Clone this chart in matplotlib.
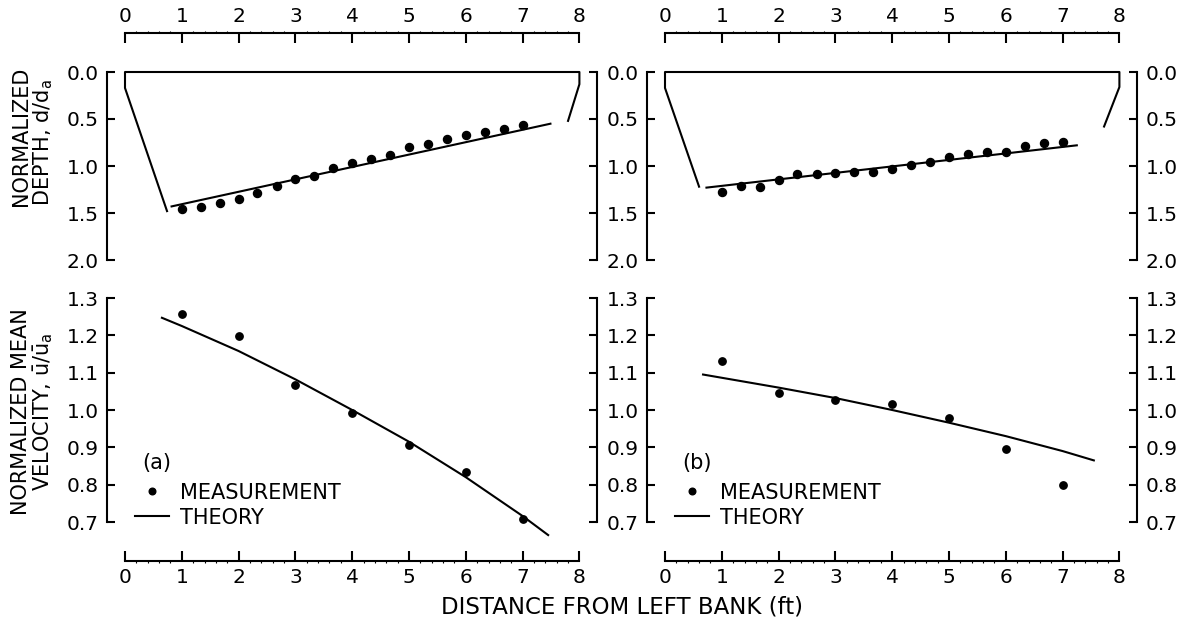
import numpy as np
import matplotlib.pyplot as plt
from matplotlib.ticker import FixedLocator, FormatStrFormatter

# --- channel cross sections (distance in ft, normalized depth d/d_a) ---
depth_x = [1.0, 1.33, 1.67, 2.0, 2.33, 2.67, 3.0, 3.33, 3.67, 4.0,
           4.33, 4.67, 5.0, 5.33, 5.67, 6.0, 6.33, 6.67, 7.0]
depth_meas_a = [1.46, 1.44, 1.39, 1.35, 1.29, 1.21, 1.14, 1.11, 1.02, 0.97,
                0.93, 0.88, 0.80, 0.77, 0.71, 0.67, 0.64, 0.61, 0.56]
depth_meas_b = [1.28, 1.21, 1.22, 1.15, 1.08, 1.08, 1.07, 1.06, 1.06, 1.03,
                0.99, 0.96, 0.90, 0.87, 0.85, 0.85, 0.79, 0.75, 0.74]

# banks + water surface outline
outline_x_a = [0.74, 0.0, 0.0, 8.0, 8.0, 7.80]
outline_d_a = [1.48, 0.17, 0.0, 0.0, 0.13, 0.52]
outline_x_b = [0.60, 0.0, 0.0, 8.0, 8.0, 7.73]
outline_d_b = [1.22, 0.17, 0.0, 0.0, 0.16, 0.58]

# theoretical bed
bed_x_a = [0.82, 7.49]
bed_d_a = [1.43, 0.55]
bed_x_b = [0.73, 7.25]
bed_d_b = [1.23, 0.78]

# --- depth-averaged velocity ---
vel_x = [1, 2, 3, 4, 5, 6, 7]
vel_meas_a = [1.258, 1.197, 1.066, 0.993, 0.905, 0.833, 0.709]
vel_meas_b = [1.130, 1.045, 1.028, 1.017, 0.979, 0.895, 0.800]

vel_theory_x_a = [0.65, 1.0, 2.0, 3.0, 4.0, 5.0, 6.0, 7.0, 7.45]
vel_theory_a = [1.247, 1.225, 1.158, 1.082, 1.000, 0.915, 0.820, 0.716, 0.665]
vel_theory_x_b = [0.67, 2.0, 3.0, 4.0, 5.0, 6.0, 7.0, 7.55]
vel_theory_b = [1.095, 1.060, 1.032, 1.000, 0.966, 0.930, 0.890, 0.865]

dist_ticks = [0, 1, 2, 3, 4, 5, 6, 7, 8]
depth_ticks = [0.0, 0.5, 1.0, 1.5, 2.0]
vel_ticks = [0.7, 0.8, 0.9, 1.0, 1.1, 1.2, 1.3]
panel_tags = ['(a)', '(b)']

plt.rcParams['font.family'] = 'DejaVu Sans'

W, H = 1191, 624
fig = plt.figure(figsize=(W / 100, H / 100), dpi=100)

PAD = 0.31          # gap between x=0 / x=8 and the side spines, in ft
UNIT = 56.8         # pixels per ft
x_origin = [125, 665]
LW = 1.5


def add_px_axes(x0, x1, y0, y1):
    return fig.add_axes([x0 / W, 1 - y1 / H, (x1 - x0) / W, (y1 - y0) / H])


panels = [
    (depth_meas_a, outline_x_a, outline_d_a, bed_x_a, bed_d_a,
     vel_meas_a, vel_theory_x_a, vel_theory_a),
    (depth_meas_b, outline_x_b, outline_d_b, bed_x_b, bed_d_b,
     vel_meas_b, vel_theory_x_b, vel_theory_b),
]

minor_x = [t + f for t in dist_ticks[:-1] for f in (0.2, 0.4, 0.6, 0.8)]

for i, (dm, ox, od, bx, bd, vm, tx, tv) in enumerate(panels):
    x0 = x_origin[i] - PAD * UNIT
    x1 = x_origin[i] + (8 + PAD) * UNIT
    axd = add_px_axes(x0, x1, 72, 260)
    axv = add_px_axes(x0, x1, 298, 522)

    # depth profile
    axd.plot(ox, od, color='black', lw=LW, clip_on=False)
    axd.plot(bx, bd, color='black', lw=LW, clip_on=False)
    axd.plot(depth_x, dm, 'o', color='black', ms=5.8, clip_on=False)

    # velocity profile
    theory, = axv.plot(tx, tv, color='black', lw=LW, clip_on=False)
    meas, = axv.plot(vel_x, vm, 'o', color='black', ms=5.3, clip_on=False)

    for ax in (axd, axv):
        ax.set_xlim(-PAD, 8 + PAD)
        ax.set_xticks(dist_ticks)
        ax.xaxis.set_minor_locator(FixedLocator(minor_x))
        ax.yaxis.set_ticks_position('both')
        ax.yaxis.set_major_formatter(FormatStrFormatter('%.1f'))
        for s in ax.spines.values():
            s.set_linewidth(LW)
        ax.tick_params(axis='y', which='major', direction='in', length=6,
                       width=LW, labelsize=14.5, pad=6,
                       labelleft=True, labelright=(i == 1))
        ax.tick_params(axis='x', which='major', direction='in', length=7,
                       width=LW, labelsize=14.5, pad=5)
        ax.tick_params(axis='x', which='minor', direction='out', length=1.5,
                       width=0.8)

    axd.set_ylim(2, 0)
    axd.set_yticks(depth_ticks)
    axd.spines['bottom'].set_visible(False)
    axd.spines['top'].set_position(('outward', 28))
    axd.spines['top'].set_bounds(0, 8)
    axd.xaxis.set_ticks_position('top')

    axv.set_ylim(0.7, 1.3)
    axv.set_yticks(vel_ticks)
    axv.spines['top'].set_visible(False)
    axv.spines['bottom'].set_position(('outward', 28))
    axv.spines['bottom'].set_bounds(0, 8)
    axv.xaxis.set_ticks_position('bottom')

    axv.text(0.071, 0.263, panel_tags[i], transform=axv.transAxes,
             fontsize=15, va='center', ha='left')
    axv.legend([meas, theory], ['MEASUREMENT', 'THEORY'],
               loc='upper left', bbox_to_anchor=(0.057, 0.176),
               frameon=False, fontsize=15, handlelength=1.6,
               handletextpad=0.55, labelspacing=0.25, borderpad=0,
               borderaxespad=0, markerscale=0.9)

fig.text(622 / W, 1 - 607 / H, 'DISTANCE FROM LEFT BANK (ft)',
         ha='center', va='center', fontsize=16.5)
fig.text(33 / W, 1 - 206 / H, 'NORMALIZED\nDEPTH, d/d$_\\mathrm{a}$',
         rotation=90, ha='center', va='bottom', multialignment='left',
         fontsize=15, linespacing=1.0)
fig.text(33 / W, 1 - 412 / H,
         'NORMALIZED MEAN\nVELOCITY, '
         '$\\bar{\\mathrm{u}}/\\bar{\\mathrm{u}}_\\mathrm{a}$',
         rotation=90, ha='center', va='center', multialignment='center',
         fontsize=15, linespacing=1.0)

fig.savefig('out.png', dpi=100)
